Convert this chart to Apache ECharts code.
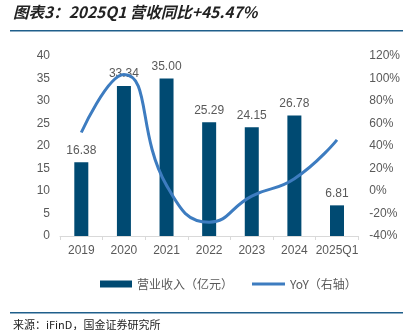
<!DOCTYPE html>
<html>
<head>
<meta charset="utf-8">
<script src="https://cdn.jsdelivr.net/npm/echarts@6/dist/echarts.min.js"></script>
<style>html,body{margin:0;padding:0;background:#fff}#c{width:403px;height:330px}</style>
</head>
<body>
<div id="c"></div>
<script>
const categories = ['2019','2020','2021','2022','2023','2024','2025Q1'];
const revenue = [16.38, 33.34, 35.00, 25.29, 24.15, 26.78, 6.81];
const yoy = [52, 103.5, 5, -27.7, -4.5, 10.9, 45.47];
const leftTicks = {min: 0, max: 40, interval: 5};
const rightTicks = {min: -40, max: 120, interval: 20};

const chart = echarts.init(document.getElementById('c'));
const gray = '#595959';
const legendText = {color: gray, fontSize: 12, fontFamily: 'Noto Sans CJK SC'};
chart.setOption({
  animation: false,
  textStyle: {fontFamily: 'Liberation Sans, Arial, sans-serif'},
  graphic: [
    {type: 'text', left: 13, top: 4, style: {text: '图表3：2025Q1 营收同比+45.47%', font: 'italic bold 15.5px "Noto Sans CJK SC"', fill: '#222'}},
    {type: 'rect', shape: {x: 10, y: 30, width: 393, height: 1.5}, style: {fill: '#1f5f8b'}},
    {type: 'rect', shape: {x: 10, y: 312, width: 393, height: 1.5}, style: {fill: '#1f5f8b'}},
    {type: 'text', left: 13, top: 319, style: {text: '来源：iFinD，国金证券研究所', font: '11px "Noto Sans CJK SC"', fill: '#222'}}
  ],
  legend: [
    {left: 95, top: 273, itemWidth: 32, itemHeight: 7, itemGap: 4,
     textStyle: legendText, data: [{name: '营业收入（亿元）', icon: 'rect'}]},
    {left: 247, top: 273, itemWidth: 33, itemHeight: 3, itemGap: 4,
     textStyle: legendText, data: [{name: 'YoY（右轴）', icon: 'rect'}]}
  ],
  grid: {left: 60, right: 38, top: 56, bottom: 94},
  xAxis: {
    type: 'category', data: categories,
    axisLine: {lineStyle: {color: '#d9d9d9'}},
    axisTick: {show: true, lineStyle: {color: '#d9d9d9'}, length: 4},
    axisLabel: {color: gray, fontSize: 12, margin: 9, interval: 0}
  },
  yAxis: [
    {type: 'value', min: leftTicks.min, max: leftTicks.max, interval: leftTicks.interval,
     splitLine: {show: false}, axisLine: {show: false}, axisTick: {show: false},
     axisLabel: {color: gray, fontSize: 12, margin: 10}},
    {type: 'value', min: rightTicks.min, max: rightTicks.max, interval: rightTicks.interval,
     splitLine: {show: false}, axisLine: {show: false}, axisTick: {show: false},
     axisLabel: {color: gray, fontSize: 12, margin: 11, formatter: '{value}%'}}
  ],
  series: [
    {name: '营业收入（亿元）', type: 'bar', data: revenue, barWidth: 14,
     itemStyle: {color: '#004a72'},
     label: {show: true, position: 'top', color: gray, fontSize: 12, distance: 6,
             formatter: p => p.value.toFixed(2)}},
    {name: 'YoY（右轴）', type: 'line', yAxisIndex: 1, data: yoy, smooth: true,
     symbol: 'none', lineStyle: {color: '#3d7cc0', width: 3}, itemStyle: {color: '#3d7cc0'}, z: 5}
  ]
});
</script>
</body>
</html>
